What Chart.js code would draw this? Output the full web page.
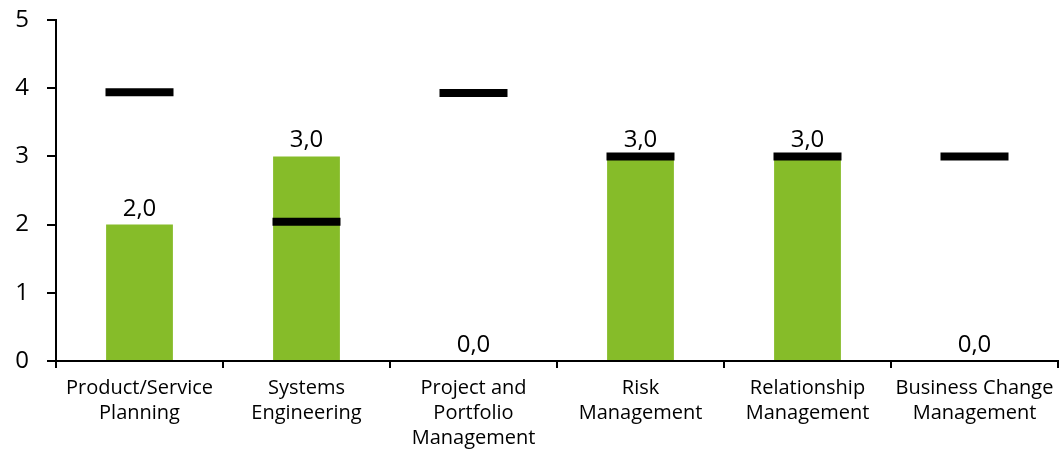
<!DOCTYPE html>
<html>
<head>
<meta charset="utf-8">
<script src="https://cdn.jsdelivr.net/npm/chart.js@4"></script>
<style>
  html, body { margin: 0; padding: 0; background: #fff; }
  #wrap { width: 1059px; height: 452px; position: relative; }
</style>
</head>
<body>
<div id="wrap"><canvas id="chart"></canvas></div>
<script>
// 데이터
const categories = [
  ["Product/Service", "Planning"],
  ["Systems", "Engineering"],
  ["Project and", "Portfolio", "Management"],
  ["Risk", "Management"],
  ["Relationship", "Management"],
  ["Business Change", "Management"]
];
const actualValues = [2.0, 3.0, 0.0, 3.0, 3.0, 0.0];
const targetValues = [3.94, 2.04, 3.93, 3.0, 3.0, 3.0];
const yTicks = [0, 1, 2, 3, 4, 5];

const FONT = "'Open Sans', 'DejaVu Sans', sans-serif";

// 막대 위 값 표시
const valueLabels = {
  id: 'valueLabels',
  afterDatasetsDraw(chart) {
    const ctx = chart.ctx;
    const meta = chart.getDatasetMeta(1);
    ctx.save();
    ctx.font = "24px " + FONT;
    ctx.fillStyle = "#000";
    ctx.textAlign = "center";
    ctx.textBaseline = "alphabetic";
    meta.data.forEach((bar, i) => {
      const txt = actualValues[i].toFixed(1).replace('.', ',');
      ctx.fillText(txt, bar.x, bar.y - 9);
    });
    ctx.restore();
  }
};

const ctx = document.getElementById('chart').getContext('2d');
new Chart(ctx, {
  data: {
    labels: categories,
    datasets: [
      {
        type: 'line',
        label: 'Target',
        data: targetValues,
        showLine: false,
        pointStyle: 'line',
        pointRadius: 34,
        pointHoverRadius: 34,
        borderColor: '#000',
        borderWidth: 8,
        order: 0
      },
      {
        type: 'bar',
        label: 'Actual',
        data: actualValues,
        backgroundColor: '#86bc29',
        barPercentage: 0.4,
        categoryPercentage: 1.0,
        order: 1
      }
    ]
  },
  options: {
    responsive: true,
    maintainAspectRatio: false,
    animation: false,
    layout: { autoPadding: false, padding: { top: 20, right: 1, left: 0, bottom: 0 } },
    plugins: {
      legend: { display: false },
      tooltip: { enabled: false }
    },
    scales: {
      x: {
        offset: true,
        grid: {
          offset: true,
          drawOnChartArea: false,
          drawTicks: true,
          tickLength: 7,
          color: '#000',
          lineWidth: 2
        },
        border: { color: '#000', width: 2 },
        ticks: {
          color: '#000',
          font: { size: 20, family: FONT, lineHeight: 1.25 },
          padding: 8,
          maxRotation: 0,
          autoSkip: false
        },
        afterFit(scale) {
          scale.height = 91;
          scale.paddingLeft = 0;
          scale.paddingRight = 0;
        }
      },
      y: {
        min: 0,
        max: 5,
        afterBuildTicks(scale) { scale.ticks = yTicks.map(v => ({ value: v })); },
        grid: {
          drawOnChartArea: false,
          drawTicks: true,
          tickLength: 9,
          color: '#000',
          lineWidth: 2
        },
        border: { color: '#000', width: 2 },
        ticks: {
          color: '#000',
          font: { size: 24, family: FONT },
          padding: 18
        },
        afterFit(scale) {
          scale.width = 56;
          scale.paddingTop = 0;
          scale.paddingBottom = 0;
        }
      }
    }
  },
  plugins: [valueLabels]
});
</script>
</body>
</html>
